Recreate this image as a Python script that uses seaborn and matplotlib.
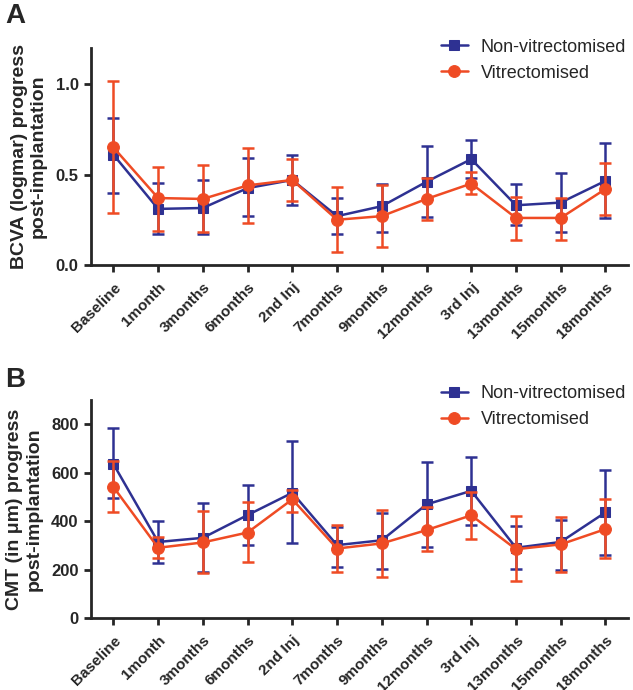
import numpy as np
import pandas as pd
import matplotlib
matplotlib.use("Agg")
import matplotlib.pyplot as plt
import matplotlib.transforms as mtransforms
import seaborn as sns

timepoints = ["Baseline", "1month", "3months", "6months", "2nd Inj", "7months",
              "9months", "12months", "3rd Inj", "13months", "15months", "18months"]
groups = ["Non-vitrectomised", "Vitrectomised"]

# panel A - BCVA (logmar), mean with lower / upper error bar ends
bcva_non = [0.61, 0.31, 0.315, 0.425, 0.47, 0.27, 0.325, 0.46, 0.585, 0.33, 0.345, 0.465]
bcva_non_lo = [0.40, 0.17, 0.17, 0.27, 0.333, 0.17, 0.18, 0.265, 0.48, 0.22, 0.18, 0.26]
bcva_non_hi = [0.81, 0.455, 0.47, 0.59, 0.61, 0.37, 0.45, 0.66, 0.69, 0.445, 0.51, 0.675]
bcva_vit = [0.65, 0.37, 0.365, 0.44, 0.47, 0.25, 0.27, 0.365, 0.45, 0.26, 0.26, 0.42]
bcva_vit_lo = [0.29, 0.19, 0.18, 0.23, 0.355, 0.07, 0.10, 0.25, 0.395, 0.14, 0.14, 0.275]
bcva_vit_hi = [1.02, 0.54, 0.55, 0.645, 0.585, 0.43, 0.44, 0.48, 0.515, 0.375, 0.37, 0.565]

# panel B - CMT (um)
cmt_non = [636, 314, 331, 425, 517, 301, 321, 469, 525, 290, 314, 436]
cmt_non_lo = [496, 229, 190, 301, 310, 211, 201, 294, 386, 201, 200, 262]
cmt_non_hi = [783, 400, 473, 549, 731, 375, 434, 644, 664, 379, 405, 611]
cmt_vit = [541, 290, 312, 353, 490, 287, 308, 363, 424, 284, 304, 367]
cmt_vit_lo = [436, 247, 184, 232, 436, 188, 170, 276, 328, 153, 188, 246]
cmt_vit_hi = [648, 335, 441, 477, 530, 384, 446, 459, 521, 422, 418, 490]

colors = {"Non-vitrectomised": "#2E3192", "Vitrectomised": "#EF4B24"}
markers = {"Non-vitrectomised": "s", "Vitrectomised": "o"}


def make_df(non, non_lo, non_hi, vit, vit_lo, vit_hi):
    rows = []
    for g, m, lo, hi in [(groups[0], non, non_lo, non_hi), (groups[1], vit, vit_lo, vit_hi)]:
        for t, v, l, h in zip(timepoints, m, lo, hi):
            rows.append({"time": t, "group": g, "value": v, "lo": l, "hi": h})
    return pd.DataFrame(rows)


df_a = make_df(bcva_non, bcva_non_lo, bcva_non_hi, bcva_vit, bcva_vit_lo, bcva_vit_hi)
df_b = make_df(cmt_non, cmt_non_lo, cmt_non_hi, cmt_vit, cmt_vit_lo, cmt_vit_hi)

sns.set_style("ticks")
plt.rcParams["font.family"] = ["Liberation Sans", "DejaVu Sans"]

fig = plt.figure(figsize=(6.33, 6.9), dpi=100)
ax_a = fig.add_axes([0.1438, 0.616, 0.848, 0.3145])
ax_b = fig.add_axes([0.1438, 0.1043, 0.848, 0.316])


def draw_panel(ax, df, ylim, yticks, ytl, ylabel, leg_y):
    for g in groups:
        sub = df[df["group"] == g]
        ax.errorbar(sub["time"], sub["value"],
                    yerr=[sub["value"] - sub["lo"], sub["hi"] - sub["value"]],
                    fmt="none", ecolor=colors[g], elinewidth=1.8, capsize=4.3,
                    capthick=1.8, label="_nolegend_")
        sns.lineplot(data=sub, x="time", y="value", ax=ax, color=colors[g],
                     marker=markers[g], markersize=7.5 if g == groups[0] else 8.5,
                     markeredgecolor=colors[g], linewidth=1.8, label=g, sort=False)
    ax.set_xlim(-0.5, 11.5)
    ax.set_ylim(*ylim)
    ax.set_yticks(yticks)
    ax.set_yticklabels(ytl, fontsize=12, fontweight="bold")
    ax.set_xticks(range(len(timepoints)))
    ax.set_xticklabels(timepoints, rotation=45, ha="right", rotation_mode="anchor",
                       fontsize=11, fontweight="bold")
    # nudge the rotated labels a little left, like the original
    shift = mtransforms.ScaledTranslation(-3 / 100, 0, fig.dpi_scale_trans)
    for lab in ax.get_xticklabels():
        lab.set_transform(lab.get_transform() + shift)
    ax.set_xlabel("")
    ax.set_ylabel(ylabel, fontsize=14, fontweight="bold", labelpad=6)
    sns.despine(ax=ax)
    for s in ["left", "bottom"]:
        ax.spines[s].set_linewidth(2)
    ax.tick_params(width=2, length=5, pad=4)
    ax.tick_params(axis="x", pad=6)
    ax.legend(loc="upper right", bbox_to_anchor=(1.01, leg_y), frameon=False,
              fontsize=13, handlelength=1.5, handletextpad=0.7, labelspacing=0.5,
              borderaxespad=0)


draw_panel(ax_a, df_a, (0, 1.2), [0.0, 0.5, 1.0], ["0.0", "0.5", "1.0"],
           "BCVA (logmar) progress\npost-implantation", 1.076)
draw_panel(ax_b, df_b, (0, 900), [0, 200, 400, 600, 800], ["0", "200", "400", "600", "800"],
           "CMT (in \u03bcm) progress\npost-implantation", 1.10)

fig.text(0.008, 0.995, "A", fontsize=20, fontweight="bold", va="top")
fig.text(0.008, 0.468, "B", fontsize=20, fontweight="bold", va="top")

fig.savefig("out.png", dpi=100)
